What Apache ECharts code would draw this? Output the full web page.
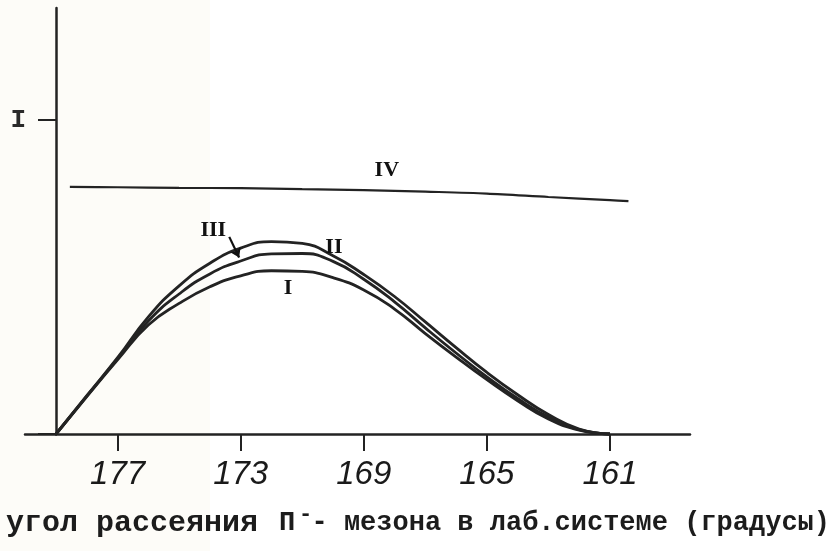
<!DOCTYPE html>
<html>
<head>
<meta charset="utf-8">
<script src="https://cdn.jsdelivr.net/npm/echarts@6/dist/echarts.min.js"></script>
<style>
  html, body { margin: 0; padding: 0; background: #ffffff; }
  #chart { width: 833px; height: 551px; }
</style>
</head>
<body>
<div id="chart"></div>
<script>
// Scattering angle of the pi- meson in the lab frame (degrees); the angle decreases to the right
const angles = [179, 178, 177, 176, 175, 174, 173, 172, 171, 170, 169, 168, 167, 166, 165, 164, 163, 162, 161];
const curveI   = [0, 0.119, 0.236, 0.347, 0.416, 0.469, 0.504, 0.520, 0.518, 0.498, 0.459, 0.398, 0.320, 0.245, 0.173, 0.106, 0.048, 0.012, 0];
const curveII  = [0, 0.121, 0.240, 0.360, 0.446, 0.510, 0.551, 0.574, 0.575, 0.550, 0.493, 0.421, 0.338, 0.258, 0.182, 0.113, 0.054, 0.014, 0];
const curveIII = [0, 0.122, 0.243, 0.373, 0.472, 0.544, 0.592, 0.613, 0.607, 0.568, 0.508, 0.438, 0.357, 0.275, 0.196, 0.125, 0.062, 0.016, 0];

const anglesIV = [178.55, 177, 175, 173, 171, 169, 167, 165, 163, 161, 160.4];
const curveIV  = [0.787, 0.786, 0.784, 0.783, 0.780, 0.777, 0.772, 0.766, 0.755, 0.745, 0.742];

const xTicks = [177, 173, 169, 165, 161];
const yStep = 1;
const yTickText = { 1: 'I' };

// curve labels: name, angle, value
const labelNames  = ['I', 'II', 'III', 'IV'];
const labelAngles = [171.46, 169.97, 173.89, 168.25];
const labelValues = [0.465, 0.596, 0.650, 0.841];
// pointer from label III to its curve
const arrowFrom = [173.37, 0.628];
const arrowTo   = [173.05, 0.562];

const pair = (xs, ys) => xs.map((a, i) => [a, ys[i]]);

const ink = '#232323';
const labelFont = { fontFamily: 'Liberation Serif', fontWeight: 'bold', fontSize: 22, color: '#111' };

function labelPoint(i) {
  return {
    coord: [labelAngles[i], labelValues[i]],
    symbol: 'circle', symbolSize: 0,
    label: Object.assign({ show: true, position: 'inside', formatter: labelNames[i] }, labelFont)
  };
}

function curve(name, xs, ys, width, extra) {
  return Object.assign({
    name: name,
    type: 'line',
    xAxisIndex: 0,
    yAxisIndex: 0,
    data: pair(xs, ys),
    smooth: 0.5,
    showSymbol: false,
    silent: true,
    clip: false,
    lineStyle: { color: ink, width: width },
    z: 3
  }, extra || {});
}

const chart = echarts.init(document.getElementById('chart'), null, { renderer: 'canvas' });

chart.setOption({
  backgroundColor: '#ffffff',
  animation: false,
  grid: [
    // main plot: vertical axis at 179 degrees
    { left: 56, right: 143, top: 8, bottom: 117, containLabel: false, outerBoundsMode: 'none' },
    // short run of the horizontal axis to the left of the vertical axis
    { left: 25, width: 31, top: 8, bottom: 117, containLabel: false, outerBoundsMode: 'none' }
  ],
  xAxis: [
    {
      gridIndex: 0,
      type: 'value',
      inverse: true,
      min: 158.4,
      max: 179,
      axisLine: { show: true, onZero: false, lineStyle: { color: ink, width: 2.5 } },
      axisTick: {
        show: true, inside: false, length: 17,
        customValues: xTicks,
        lineStyle: { color: ink, width: 2 }
      },
      axisLabel: {
        show: true,
        customValues: xTicks,
        formatter: v => String(Math.round(Number(v))),
        margin: 24,
        fontFamily: 'Liberation Sans',
        fontStyle: 'italic',
        fontSize: 33,
        color: '#1a1a1a'
      },
      splitLine: { show: false }
    },
    {
      gridIndex: 1,
      type: 'value',
      inverse: true,
      min: 179,
      max: 180,
      axisLine: { show: true, onZero: false, lineStyle: { color: ink, width: 2.5 } },
      axisTick: { show: false },
      axisLabel: { show: false },
      splitLine: { show: false }
    }
  ],
  yAxis: [
    {
      gridIndex: 0,
      type: 'value',
      min: 0,
      max: 1.357,
      interval: yStep,
      axisLine: { show: true, onZero: false, lineStyle: { color: ink, width: 2.5 } },
      axisTick: {
        show: true, inside: false, length: 18,
        lineStyle: { color: ink, width: 2 }
      },
      axisLabel: {
        show: true,
        showMinLabel: true,
        showMaxLabel: false,
        formatter: v => yTickText[Math.round(Number(v) * 1000) / 1000] || '',
        margin: 30,
        fontFamily: 'Liberation Mono',
        fontWeight: 'bold',
        fontSize: 26,
        color: '#2a2a2a'
      },
      splitLine: { show: false }
    },
    {
      gridIndex: 1,
      type: 'value',
      min: 0,
      max: 1.357,
      show: false
    }
  ],
  graphic: [
    {
      type: 'rect', z: -10, silent: true,
      shape: { x: 0, y: 0, width: 210, height: 551 },
      style: { fill: '#fdfcf8' }
    },
    {
      type: 'text', silent: true,
      x: 6, y: 523,
      style: {
        text: 'угол рассеяния',
        font: 'bold 30px "Liberation Mono", "DejaVu Sans Mono", monospace',
        fill: '#1c1c1c', verticalAlign: 'middle', align: 'left'
      }
    },
    {
      type: 'text', silent: true,
      x: 830, y: 523,
      style: {
        text: 'П - мезона в лаб.системе (градусы)',
        font: 'bold 27px "Liberation Mono", "DejaVu Sans Mono", monospace',
        fill: '#1c1c1c', verticalAlign: 'middle', align: 'right'
      }
    },
    {
      type: 'text', silent: true,
      x: 299, y: 514,
      style: {
        text: '-',
        font: 'bold 22px "Liberation Mono", "DejaVu Sans Mono", monospace',
        fill: '#1c1c1c', verticalAlign: 'middle', align: 'left'
      }
    }
  ],
  series: [
    curve('I', angles, curveI, 2.8, { markPoint: { silent: true, data: [labelPoint(0)] } }),
    curve('II', angles, curveII, 2.8, { markPoint: { silent: true, data: [labelPoint(1)] } }),
    curve('III', angles, curveIII, 2.8, {
      markPoint: { silent: true, data: [labelPoint(2)] },
      markLine: {
        silent: true,
        symbol: ['none', 'arrow'],
        symbolSize: 9,
        label: { show: false },
        lineStyle: { color: '#111', width: 2.2, type: 'solid' },
        data: [[{ coord: arrowFrom }, { coord: arrowTo }]]
      }
    }),
    curve('IV', anglesIV, curveIV, 2.2, { smooth: 0.3, markPoint: { silent: true, data: [labelPoint(3)] } })
  ]
});
</script>
</body>
</html>
